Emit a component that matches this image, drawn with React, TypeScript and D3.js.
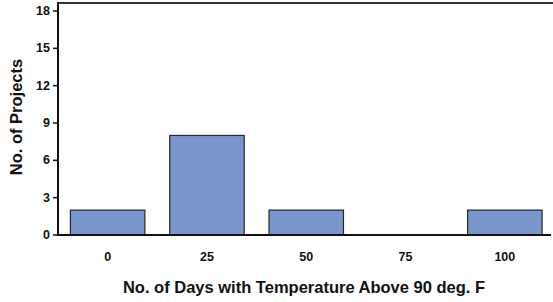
import React from "react";
import { scaleBand, scaleLinear } from "d3";

const categories = ["0", "25", "50", "75", "100"];
const projectCounts = [2, 8, 2, 0, 2];
const yTicks = [0, 3, 6, 9, 12, 15, 18];

const W = 553;
const H = 302;
const left = 58;
const bottom = 235;
const yMaxTick = 18;
const yFrameTop = 18.65;

export default function App() {
  const x = scaleBand()
    .domain(categories)
    .range([left, 554.5])
    .paddingInner(0.25)
    .paddingOuter(0.125);

  const y = scaleLinear().domain([0, yMaxTick]).range([bottom, 11]);
  const fontFamily = "Liberation Sans, Arial, sans-serif";

  return (
    <svg
      width={W}
      height={H}
      style={{ position: "absolute", left: 0, top: 0, background: "white" }}
    >
      {/* bars */}
      {categories.map((c, i) => {
        const v = projectCounts[i];
        if (!v) return null;
        return (
          <rect
            key={c}
            x={x(c)}
            y={y(v)}
            width={x.bandwidth()}
            height={bottom - y(v)}
            fill="#7b96cb"
            stroke="#23262e"
            strokeWidth={1.2}
          />
        );
      })}

      {/* frame: top line and axes */}
      <line x1={left - 1} x2={W} y1={y(yFrameTop)} y2={y(yFrameTop)} stroke="#333" strokeWidth={2} />
      <line x1={left} x2={left} y1={y(yFrameTop) - 1} y2={bottom + 1} stroke="#111" strokeWidth={2} />
      <line x1={left - 1} x2={551} y1={bottom} y2={bottom} stroke="#111" strokeWidth={2} />

      {/* y ticks */}
      {yTicks.map((t) => (
        <g key={t}>
          <line x1={left - 5} x2={left} y1={y(t)} y2={y(t)} stroke="#111" strokeWidth={1.5} />
          <text
            x={left - 8}
            y={y(t)}
            textAnchor="end"
            dominantBaseline="central"
            fontFamily={fontFamily}
            fontWeight="bold"
            fontSize={12.5}
            fill="#111"
          >
            {t}
          </text>
        </g>
      ))}

      {/* x labels */}
      {categories.map((c) => (
        <text
          key={c}
          x={(x(c) ?? 0) + x.bandwidth() / 2}
          y={257}
          textAnchor="middle"
          dominantBaseline="central"
          fontFamily={fontFamily}
          fontWeight="bold"
          fontSize={12.5}
          fill="#111"
        >
          {c}
        </text>
      ))}

      {/* axis titles */}
      <text
        x={304}
        y={287}
        textAnchor="middle"
        dominantBaseline="central"
        fontFamily={fontFamily}
        fontWeight="bold"
        fontSize={16.5}
        fill="#111"
      >
        No. of Days with Temperature Above 90 deg. F
      </text>
      <text
        transform={`translate(16, 117) rotate(-90)`}
        textAnchor="middle"
        dominantBaseline="central"
        fontFamily={fontFamily}
        fontWeight="bold"
        fontSize={16.5}
        fill="#111"
      >
        No. of Projects
      </text>
    </svg>
  );
}
